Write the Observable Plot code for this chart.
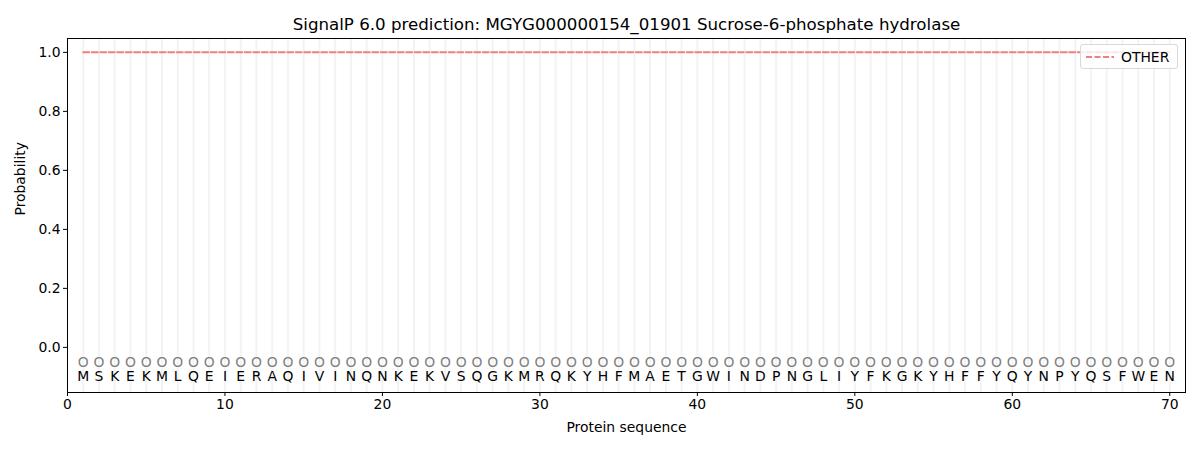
<!DOCTYPE html>
<html>
<head>
<meta charset="utf-8">
<script src="https://cdn.jsdelivr.net/npm/d3@7"></script>
<script src="https://cdn.jsdelivr.net/npm/@observablehq/plot@0.6"></script>
<style>
  body { margin: 0; background: #fff; font-family: "DejaVu Sans", sans-serif; }
  #wrap { position: relative; width: 1200px; height: 450px; }
  #legend { position: absolute; left: 1080px; top: 44px; width: 98px; height: 25px;
    border: 1px solid #d9d9d9; border-radius: 3px; background: rgba(255,255,255,0.8);
    font: 13.9px "DejaVu Sans", sans-serif; display: flex; align-items: center; box-sizing: border-box; }
  #legend svg { margin-left: 5px; margin-right: 7px; }
</style>
</head>
<body>
<div id="wrap"></div>
<script>
const title = "SignalP 6.0 prediction: MGYG000000154_01901 Sucrose-6-phosphate hydrolase";
const sequence = "MSKEKMLQEIERAQIVINQNKEKVSQGKMRQKYHFMAETGWINDPNGLIYFKGKYHFFYQYNPYQSFWEN".split("");
const positions = sequence.map((_, i) => i + 1);
const otherProb = positions.map(() => 1.0);
const seriesName = "OTHER";
const xTicks = [0, 10, 20, 30, 40, 50, 60, 70];
const yTicks = [0.0, 0.2, 0.4, 0.6, 0.8, 1.0];

const residues = positions.map((p, i) => ({pos: p, aa: sequence[i], prob: otherProb[i]}));
const font = "DejaVu Sans";
const fs = 13.9;

const chart = Plot.plot({
  width: 1200,
  height: 450,
  marginLeft: 67,
  marginRight: 15,
  marginTop: 38,
  marginBottom: 58,
  style: {fontFamily: font, fontSize: "13.9px", background: "white"},
  x: {domain: [0, 71], ticks: xTicks, tickFormat: d => String(d), label: null},
  y: {domain: [-0.153, 1.047], ticks: yTicks, tickFormat: d => d.toFixed(1), label: null},
  marks: [
    Plot.ruleX(residues, {x: "pos", stroke: "#f3f3f3", strokeWidth: 2}),
    Plot.line(residues, {x: "pos", y: "prob", stroke: "#f08080", strokeWidth: 2, strokeDasharray: "6,2.5"}),
    Plot.text(residues, {x: "pos", y: () => -0.05, text: () => "O", fill: "#808080", fontSize: fs}),
    Plot.text(residues, {x: "pos", y: () => -0.1, text: "aa", fill: "black", fontSize: fs}),
    Plot.frame({stroke: "black", strokeWidth: 1}),
    Plot.axisX({ticks: xTicks, tickFormat: d => String(d), tickSize: 4, fontSize: fs, tickPadding: 3, label: null}),
    Plot.axisY({ticks: yTicks, tickFormat: d => d.toFixed(1), tickSize: 4, fontSize: fs, tickPadding: 3, label: null}),
    Plot.text([title], {frameAnchor: "top", dy: -20, text: d => d, fontSize: 16.67, fill: "black"}),
    Plot.text(["Protein sequence"], {frameAnchor: "bottom", dy: 39, text: d => d, fontSize: fs, fill: "black"}),
    Plot.text(["Probability"], {frameAnchor: "left", dx: -47, rotate: -90, text: d => d, fontSize: fs, fill: "black"})
  ]
});

const wrap = document.getElementById("wrap");
wrap.appendChild(chart);
const legend = document.createElement("div");
legend.id = "legend";
legend.innerHTML = `<svg width="28" height="4"><line x1="0" y1="2" x2="28" y2="2" stroke="#f08080" stroke-width="2" stroke-dasharray="6,2.5"/></svg><span>${seriesName}</span>`;
wrap.appendChild(legend);
</script>
</body>
</html>
